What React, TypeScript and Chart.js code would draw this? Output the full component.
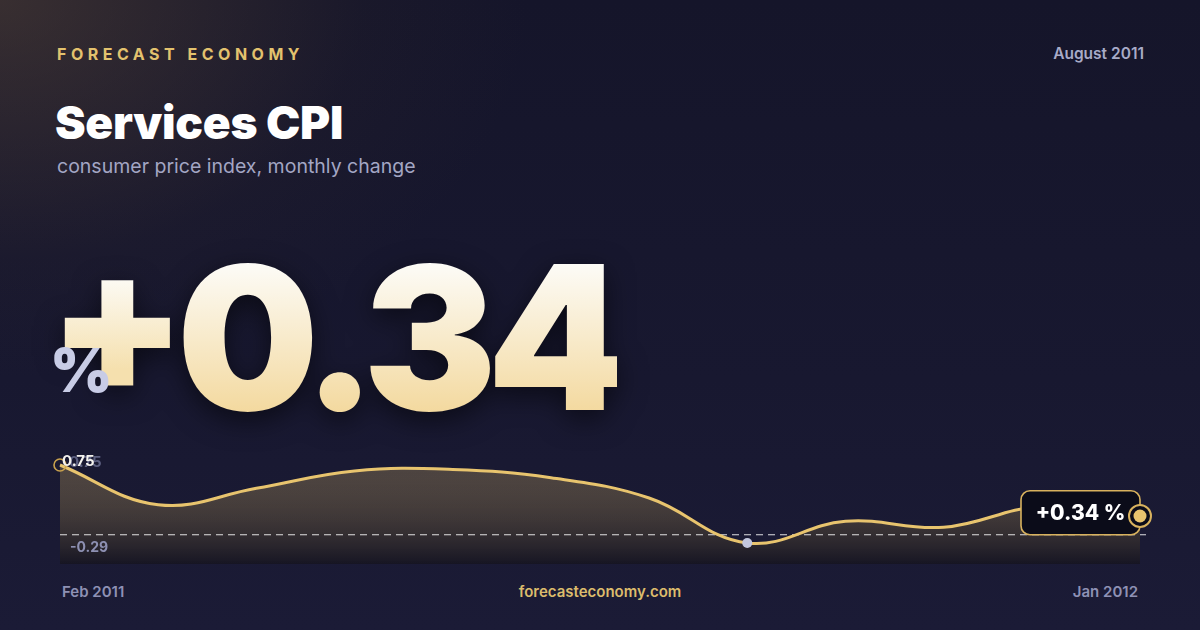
import React, { useEffect, useRef } from "react";
import { Chart, registerables } from "chart.js";

Chart.register(...registerables);

const MONTHS = ["Feb 2011", "Mar 2011", "Apr 2011", "May 2011", "Jun 2011", "Jul 2011", "Aug 2011", "Sep 2011", "Oct 2011", "Nov 2011", "Dec 2011", "Jan 2012"];
const VALUES = [0.75, 0.22, 0.44, 0.67, 0.69, 0.58, 0.31, -0.29, 0.0, -0.08, 0.2, 0.07];
const BASELINE = [-0.18];
const Y_RANGE = [-0.57, 0.79];
const HEADLINE = [0.34];
const MAX_LABEL = ["0.75"];
const MIN_LABEL = ["-0.29"];

const GOLD = "#e8c46e";
const FONT = "Inter, 'Noto Sans', sans-serif";

function App() {
  const ref = useRef<HTMLCanvasElement | null>(null);

  useEffect(() => {
    const canvas = ref.current;
    if (!canvas) return;
    const last = VALUES.length - 1;
    const minIdx = VALUES.indexOf(Math.min(...VALUES));

    const overlay = {
      id: "overlay",
      beforeDatasetDraw(chart: any, args: any) {
        if (args.index !== 0) return;
        const { ctx, chartArea, scales } = chart;
        const y = scales.y.getPixelForValue(BASELINE[0]);
        ctx.save();
        ctx.strokeStyle = "rgba(255,255,255,0.85)";
        ctx.lineWidth = 1.2;
        ctx.setLineDash([7, 5]);
        ctx.beginPath();
        ctx.moveTo(chartArea.left, y);
        ctx.lineTo(chartArea.right + 6, y);
        ctx.stroke();
        ctx.restore();
      },
      afterDatasetsDraw(chart: any) {
        const { ctx, chartArea, scales } = chart;
        const meta = chart.getDatasetMeta(0);
        const pt = meta.data[last];
        const px = pt.x;
        const py = pt.y;
        ctx.save();
        ctx.textBaseline = "middle";
        ctx.textAlign = "left";
        ctx.font = `700 15px ${FONT}`;
        ctx.fillStyle = "rgba(150,155,195,0.55)";
        ctx.fillText(MAX_LABEL[0], chartArea.left + 9, scales.y.getPixelForValue(VALUES[0]) - 3);
        ctx.fillStyle = "#f4f2ee";
        ctx.fillText(MAX_LABEL[0], chartArea.left + 2, scales.y.getPixelForValue(VALUES[0]) - 4);
        ctx.font = `700 14px ${FONT}`;
        ctx.fillStyle = "#8d90b2";
        ctx.fillText(MIN_LABEL[0], chartArea.left + 10, scales.y.getPixelForValue(BASELINE[0]) + 13);

        const w = 119;
        const h = 44;
        const bx = px - w;
        const by = scales.y.getPixelForValue(BASELINE[0]) - h;
        ctx.beginPath();
        ctx.roundRect(bx, by, w, h, 9);
        ctx.fillStyle = "#0b0c19";
        ctx.fill();
        ctx.lineWidth = 1.6;
        ctx.strokeStyle = "#d8b25e";
        ctx.stroke();
        ctx.font = `800 21px ${FONT}`;
        ctx.fillStyle = "#ffffff";
        ctx.textAlign = "center";
        ctx.fillText(`+${HEADLINE[0].toFixed(2)} %`, bx + w / 2, by + h / 2 + 1);

        ctx.beginPath();
        ctx.arc(px, py, 11, 0, Math.PI * 2);
        ctx.fillStyle = "#0b0c19";
        ctx.fill();
        ctx.lineWidth = 2;
        ctx.strokeStyle = "#d8b25e";
        ctx.stroke();
        ctx.beginPath();
        ctx.arc(px, py, 6.5, 0, Math.PI * 2);
        ctx.fillStyle = GOLD;
        ctx.fill();
        ctx.restore();
      },
    };

    const chart = new Chart(canvas, {
      type: "line",
      data: {
        labels: MONTHS,
        datasets: [
          {
            data: VALUES,
            borderColor: GOLD,
            borderWidth: 3,
            tension: 0.4,
            clip: false,
            fill: "start",
            backgroundColor: (c: any) => {
              const area = c.chart.chartArea;
              if (!area) return "rgba(232,196,110,0.2)";
              const g = c.chart.ctx.createLinearGradient(0, area.top, 0, area.bottom);
              g.addColorStop(0, "rgba(232,196,110,0.25)");
              g.addColorStop(1, "rgba(20,18,22,0.55)");
              return g;
            },
            pointRadius: (c: any) => (c.dataIndex === 0 ? 6 : c.dataIndex === minIdx ? 5 : 0),
            pointBackgroundColor: (c: any) => (c.dataIndex === minIdx ? "#c3c7de" : "rgba(0,0,0,0)"),
            pointBorderColor: (c: any) => (c.dataIndex === minIdx ? "#c3c7de" : "#c9a24e"),
            pointBorderWidth: (c: any) => (c.dataIndex === 0 ? 1.6 : 0),
            pointHoverRadius: 0,
          },
        ],
      },
      options: {
        animation: false,
        responsive: false,
        maintainAspectRatio: false,
        layout: { padding: { left: 20, right: 20, top: 22, bottom: 16 } },
        scales: {
          x: { display: false },
          y: { display: false, min: Y_RANGE[0], max: Y_RANGE[1] },
        },
        plugins: { legend: { display: false }, tooltip: { enabled: false } },
      },
      plugins: [overlay],
    });
    return () => chart.destroy();
  }, []);

  const abs = (s: React.CSSProperties): React.CSSProperties => ({ position: "absolute", margin: 0, whiteSpace: "nowrap", ...s });
  const grad = (top: string, bottom: string): React.CSSProperties => ({
    display: "inline-block",
    background: `linear-gradient(180deg, ${top}, ${bottom})`,
    WebkitBackgroundClip: "text",
    backgroundClip: "text",
    color: "transparent",
  });

  return (
    <div
      style={{
        position: "fixed",
        left: 0,
        top: 0,
        width: 1200,
        height: 630,
        overflow: "hidden",
        fontFamily: FONT,
        background:
          "radial-gradient(ellipse 55% 75% at 0% 0%, rgba(105,82,58,0.42), rgba(60,48,45,0.12) 55%, rgba(0,0,0,0) 80%), linear-gradient(180deg, #15152a 0%, #181830 60%, #1b1b36 100%)",
      }}
    >
      <div style={abs({ left: 57, top: 44, fontSize: 16, fontWeight: 700, letterSpacing: 4.5, color: "#e3c26e" })}>FORECAST ECONOMY</div>
      <div style={abs({ right: 56, top: 44, fontSize: 15.5, fontWeight: 600, color: "#a8abc7" })}>August 2011</div>
      <div style={abs({ left: 55, top: 99, fontSize: 46, lineHeight: 1, fontWeight: 900, color: "#ffffff", letterSpacing: -0.3 })}>Services CPI</div>
      <div style={abs({ left: 57, top: 155, fontSize: 19.5, lineHeight: 1.2, fontWeight: 400, color: "#a3a6c4" })}>consumer price index, monthly change</div>

      <div
        style={abs({
          left: 48,
          top: 237,
          fontSize: 200,
          lineHeight: 1,
          fontWeight: 900,
          letterSpacing: -10,
          filter: "drop-shadow(0 8px 14px rgba(0,0,0,0.55))",
        })}
      >
        <span style={{ ...grad("#fdfdfb 25%", "#f5e0ae 75%"), position: "relative", top: -18 }}>+</span>
        <span style={grad("#fdfdfb 10%", "#f3d89c 90%")}>{HEADLINE[0].toFixed(2)}</span>
      </div>
      <div style={abs({ left: 50, top: 340, fontSize: 60, lineHeight: 1, fontWeight: 900, color: "#c8cce6" })}>%</div>

      <canvas ref={ref} width={1120} height={140} style={{ position: "absolute", left: 40, top: 440, width: 1120, height: 140 }} />

      <div style={abs({ left: 62, top: 582, fontSize: 15, fontWeight: 600, color: "#8e91b4" })}>{MONTHS[0]}</div>
      <div style={abs({ left: 0, width: 1200, textAlign: "center", top: 582, fontSize: 15, fontWeight: 600, color: "#dcbc6c" })}>forecasteconomy.com</div>
      <div style={abs({ right: 62, top: 582, fontSize: 15, fontWeight: 600, color: "#8e91b4" })}>{MONTHS[MONTHS.length - 1]}</div>
    </div>
  );
}

export default App;
